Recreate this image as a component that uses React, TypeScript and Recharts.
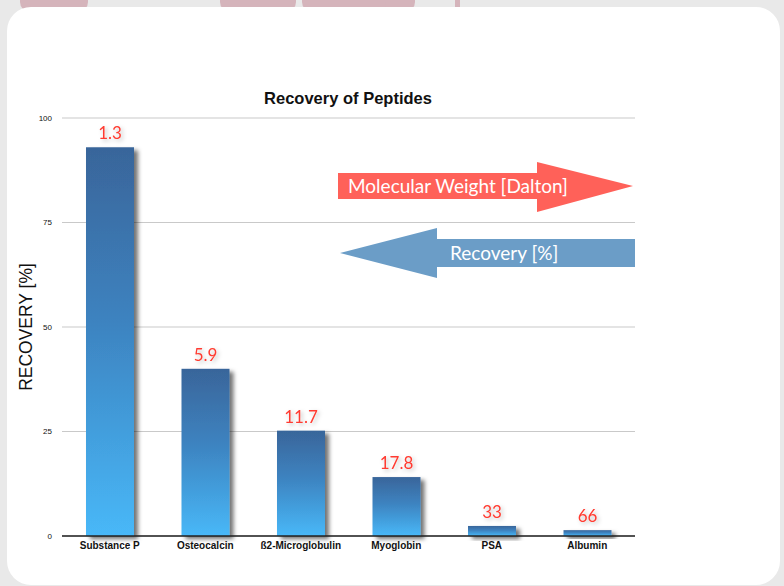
import React from 'react';
import { BarChart, Bar, XAxis, YAxis, CartesianGrid, LabelList } from 'recharts';

const categories = ['Substance P', 'Osteocalcin', 'ß2-Microglobulin', 'Myoglobin', 'PSA', 'Albumin'];
const recovery = [93, 40, 25.2, 14.1, 2.4, 1.4];
const molecularWeight = ['1.3', '5.9', '11.7', '17.8', '33', '66'];
const yTicks = [0, 25, 50, 75, 100];

const data = categories.map((name, i) => ({ name, recovery: recovery[i], weight: molecularWeight[i] }));

const W = 784;
const H = 586;

// pink shapes peeking out above the white card
const blobs = [
  { left: 20, width: 68 },
  { left: 220, width: 76 },
  { left: 302, width: 88 },
  { left: 385, width: 30 },
  { left: 455, width: 5 },
];

const ShadowBar = (props: any) => {
  const { x, y, width, height } = props;
  if (!height || height <= 0) return null;
  return <rect x={x} y={y} width={width} height={height} fill="url(#barGrad)" filter="url(#barShadow)" />;
};

const App: React.FC = () => {
  return (
    <div style={{ position: 'absolute', left: 0, top: 0, width: W, height: H, background: '#e9e9e9', overflow: 'hidden' }}>
      {blobs.map((b, i) => (
        <div
          key={i}
          style={{
            position: 'absolute',
            left: b.left,
            top: -12,
            width: b.width,
            height: 24,
            borderRadius: 10,
            background: '#d5b4bb',
          }}
        />
      ))}
      <div
        style={{
          position: 'absolute',
          left: 7,
          top: 7,
          width: 773,
          height: 578,
          borderRadius: 24,
          background: '#ffffff',
        }}
      />
      <div style={{ position: 'absolute', left: 0, top: 0 }}>
        <BarChart
          width={W}
          height={H}
          data={data}
          margin={{ top: 118, right: 149, bottom: 20, left: 42 }}
          barCategoryGap={24}
        >
          <defs>
            <linearGradient id="barGrad" x1="0" y1="0" x2="0" y2="1">
              <stop offset="0%" stopColor="#39659a" />
              <stop offset="45%" stopColor="#3d83c0" />
              <stop offset="100%" stopColor="#48b8f8" />
            </linearGradient>
            <filter id="barShadow" x="-20%" y="-20%" width="160%" height="160%">
              <feDropShadow dx="4" dy="3" stdDeviation="2" floodColor="#000" floodOpacity="0.55" />
            </filter>
            <filter id="labelShadow" x="-30%" y="-30%" width="160%" height="160%">
              <feDropShadow dx="2" dy="2" stdDeviation="2" floodColor="#000" floodOpacity="0.25" />
            </filter>
          </defs>
          <CartesianGrid vertical={false} stroke="#c9c9c9" strokeWidth={1} />
          <XAxis
            dataKey="name"
            height={30}
            tickLine={false}
            tickSize={0}
            tickMargin={6}
            axisLine={{ stroke: '#222', strokeWidth: 1.5 }}
            tick={{ fontSize: 10, fontWeight: 700, fill: '#111', fontFamily: 'Liberation Sans, Arial, sans-serif' }}
            interval={0}
          />
          <YAxis
            width={20}
            domain={[0, 100]}
            ticks={yTicks}
            axisLine={false}
            tickLine={false}
            tickSize={0}
            tickMargin={10}
            tick={{ fontSize: 8, fill: '#111', fontFamily: 'Liberation Sans, Arial, sans-serif' }}
          />
          <Bar dataKey="recovery" shape={ShadowBar} isAnimationActive={false}>
            <LabelList
              dataKey="weight"
              position="top"
              offset={8}
              fill="#ff3b30"
              fontSize={17}
              fontFamily="Lato, sans-serif"
              filter="url(#labelShadow)"
            />
          </Bar>
        </BarChart>
      </div>
      <svg
        width={W}
        height={H}
        style={{ position: 'absolute', left: 0, top: 0, pointerEvents: 'none' }}
      >
        <text
          x={348}
          y={104}
          textAnchor="middle"
          fontSize={16.5}
          fontWeight={700}
          fill="#111"
          fontFamily="Liberation Sans, Arial, sans-serif"
        >
          Recovery of Peptides
        </text>
        <text
          x={32}
          y={327}
          transform="rotate(-90 32 327)"
          textAnchor="middle"
          fontSize={17.5}
          fill="#111"
          fontFamily="Liberation Sans, Arial, sans-serif"
        >
          RECOVERY [%]
        </text>
        <polygon points="338,173 537,173 537,162 633,186 537,212 537,199 338,199" fill="#ff6159" />
        <text x={348} y={193} fontSize={19} fill="#fff" fontFamily="Lato, sans-serif">
          Molecular Weight [Dalton]
        </text>
        <polygon points="635,239 437,239 437,228 340,253 437,278 437,267 635,267" fill="#6b9dc7" />
        <text x={450} y={260} fontSize={19} fill="#fff" fontFamily="Lato, sans-serif">
          Recovery [%]
        </text>
      </svg>
    </div>
  );
};

export default App;
